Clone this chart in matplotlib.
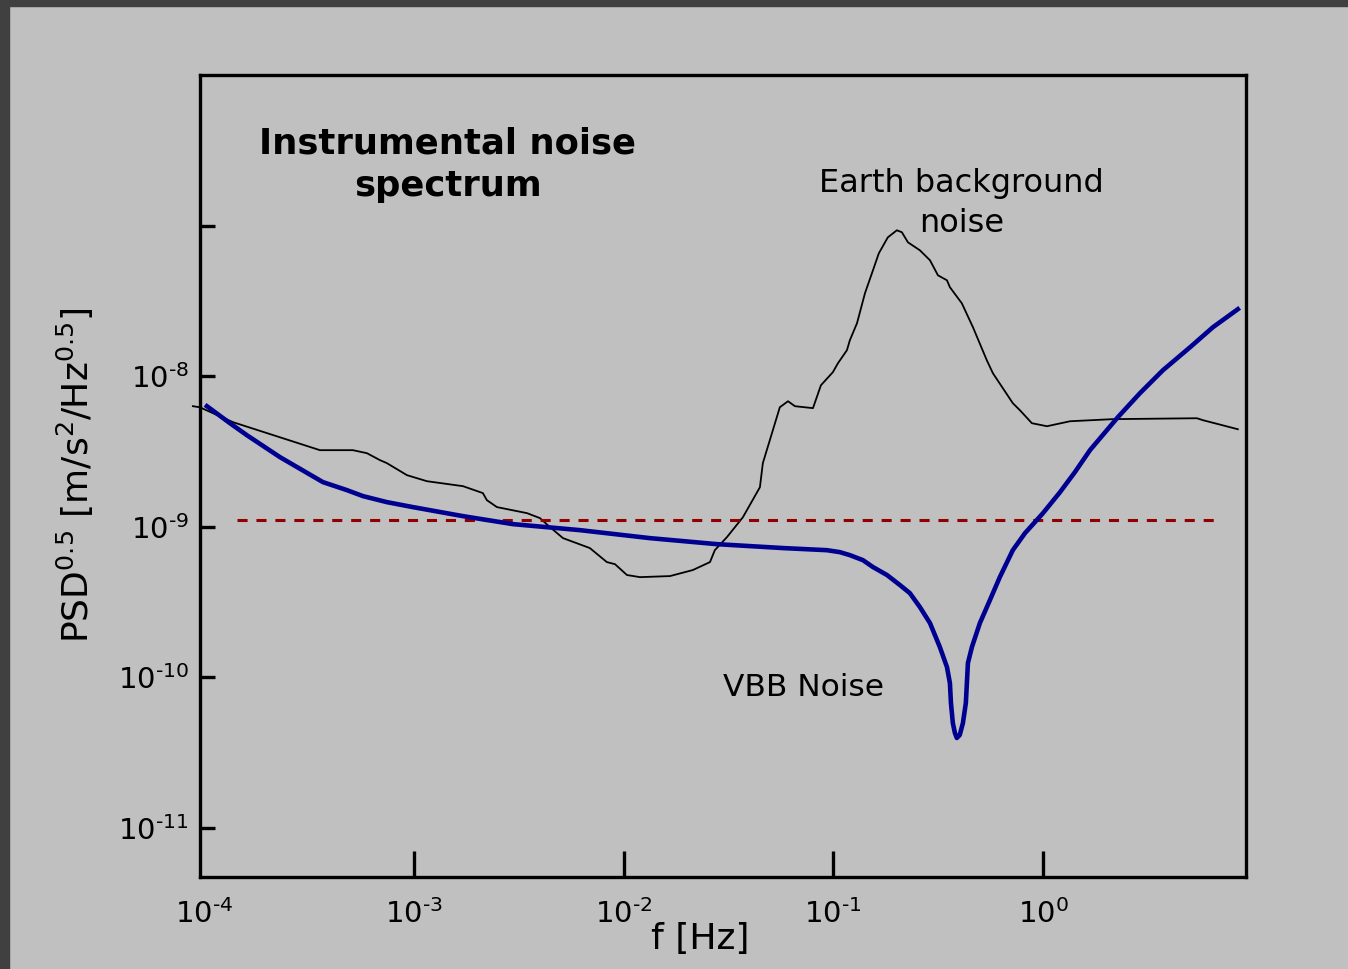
import numpy as np
import matplotlib
matplotlib.use("Agg")
import matplotlib.pyplot as plt
from matplotlib.patches import Rectangle

# log10 values
vbb_logf = [-3.987, -3.877, -3.796, -3.639, -3.434, -3.320, -3.243, -3.129,
            -3.005, -2.766, -2.528, -2.208, -1.875, -1.555, -1.240, -1.031,
            -0.969, -0.921, -0.859, -0.811, -0.744, -0.682, -0.635, -0.587,
            -0.539, -0.492, -0.458, -0.444, -0.439, -0.430, -0.420, -0.411,
            -0.397, -0.382, -0.368, -0.363, -0.358, -0.339, -0.301, -0.253,
            -0.206, -0.144, -0.086, 0.000, 0.081, 0.152, 0.224, 0.357,
            0.462, 0.572, 0.701, 0.810, 0.929]
vbb_logpsd = [-8.199, -8.312, -8.392, -8.537, -8.703, -8.756, -8.796, -8.836,
              -8.869, -8.929, -8.982, -9.022, -9.075, -9.115, -9.141, -9.155,
              -9.168, -9.188, -9.221, -9.267, -9.320, -9.387, -9.440, -9.533,
              -9.639, -9.798, -9.931, -10.037, -10.170, -10.303, -10.369, -10.402,
              -10.382, -10.303, -10.170, -10.037, -9.904, -9.798, -9.639, -9.486,
              -9.334, -9.155, -9.042, -8.909, -8.770, -8.637, -8.491, -8.272,
              -8.113, -7.960, -7.808, -7.675, -7.555]

earth_logf = [-4.054, -4.021, -3.863, -3.448, -3.291, -3.224, -3.162, -3.129,
              -3.033, -2.938, -2.766, -2.671, -2.652, -2.604, -2.461, -2.399,
              -2.351, -2.289, -2.161, -2.080, -2.041, -1.984, -1.922, -1.779,
              -1.670, -1.588, -1.565, -1.507, -1.431, -1.350, -1.336, -1.255,
              -1.216, -1.183, -1.097, -1.059, -1.002, -0.978, -0.935, -0.921,
              -0.887, -0.849, -0.811, -0.783, -0.740, -0.697, -0.673, -0.644,
              -0.587, -0.539, -0.501, -0.458, -0.444, -0.387, -0.334, -0.268,
              -0.239, -0.144, -0.110, -0.053, 0.019, 0.129, 0.333, 0.734,
              0.763, 0.929]
earth_logpsd = [-8.199, -8.206, -8.305, -8.491, -8.491, -8.511, -8.557, -8.577,
                -8.657, -8.697, -8.730, -8.776, -8.823, -8.869, -8.909, -8.942,
                -9.002, -9.075, -9.141, -9.234, -9.248, -9.320, -9.334, -9.327,
                -9.287, -9.234, -9.155, -9.068, -8.936, -8.737, -8.577, -8.206,
                -8.166, -8.199, -8.212, -8.060, -7.973, -7.914, -7.827, -7.761,
                -7.648, -7.449, -7.297, -7.184, -7.078, -7.031, -7.044, -7.111,
                -7.164, -7.230, -7.330, -7.363, -7.409, -7.516, -7.675, -7.894,
                -7.980, -8.179, -8.226, -8.312, -8.332, -8.299, -8.285, -8.279,
                -8.292, -8.352]

req_logf = [-3.844, 0.834]
req_logpsd = -8.956

xticks = [1e-4, 1e-3, 1e-2, 1e-1, 1e0]
xtick_exp = ["‐4", "‐3", "‐2", "‐1", "0"]
yticks = [1e-11, 1e-10, 1e-9, 1e-8, 1e-7]
ytick_exp = ["‐11", "‐10", "‐9", "‐8", None]

bg = "#c0c0c0"
plt.rcParams["font.family"] = ["DejaVu Sans"]


def pow_label(e):
    if e is None:
        return ""
    return r"$\mathregular{10^{%s}}$" % e


fig = plt.figure(figsize=(13.48, 9.69), dpi=100, facecolor=bg)
# dark frame on top and left edges
fig.patches.append(Rectangle((0, 1 - 6 / 969), 1, 6 / 969, transform=fig.transFigure,
                             color="#404040", zorder=0))
fig.patches.append(Rectangle((0, 0), 9 / 1348, 1, transform=fig.transFigure,
                             color="#404040", zorder=0))

ax = fig.add_axes([200 / 1348, 1 - 877 / 969, 1046 / 1348, 802 / 969])
ax.set_facecolor(bg)
ax.set_xscale("log")
ax.set_yscale("log")
ax.set_xlim(10 ** -4.02, 10 ** 0.968)
ax.set_ylim(10 ** -11.325, 10 ** -6.0)

ax.plot(10 ** np.array(earth_logf), 10 ** np.array(earth_logpsd), color="black",
        lw=1.3, clip_on=False, zorder=2)
ax.plot(10 ** np.array(vbb_logf), 10 ** np.array(vbb_logpsd), color="#000090",
        lw=3.3, solid_joinstyle="round", zorder=3)
ax.plot(10 ** np.array(req_logf), [10 ** req_logpsd] * 2, color="#900000",
        lw=2.2, linestyle=(0, (3.3, 2.9)), zorder=2)

for s in ax.spines.values():
    s.set_linewidth(2.4)
ax.minorticks_off()
ax.set_xticks(xticks)
ax.set_xticklabels([pow_label(e) for e in xtick_exp], fontsize=21)
ax.set_yticks(yticks)
ax.set_yticklabels([pow_label(e) for e in ytick_exp], fontsize=21)
ax.tick_params(axis="x", direction="in", length=19, width=2.4, pad=16, top=False)
ax.tick_params(axis="y", direction="in", length=10.5, width=2.4, pad=8, right=False)
# no tick mark at the 1e-4 corner, only its label
ax.xaxis.get_major_ticks()[0].tick1line.set_visible(False)

ax.text(0.237, 0.888, "Instrumental noise\nspectrum", transform=ax.transAxes,
        ha="center", va="center", fontsize=25.5, fontweight="bold", linespacing=1.3)
ax.text(0.728, 0.84, "Earth background\nnoise", transform=ax.transAxes,
        ha="center", va="center", fontsize=23, linespacing=1.35)
ax.text(0.577, 0.236, "VBB Noise", transform=ax.transAxes,
        ha="center", va="center", fontsize=22.5)

fig.text(700 / 1348, 1 - 939 / 969, "f [Hz]", ha="center", va="center", fontsize=26)
fig.text(75 / 1348, 1 - 475 / 969, r"PSD$^{0.5}$ [m/s$^2$/Hz$^{0.5}$]", rotation=90,
         ha="center", va="center", fontsize=26)

fig.savefig("out.png", dpi=100, facecolor=bg)
